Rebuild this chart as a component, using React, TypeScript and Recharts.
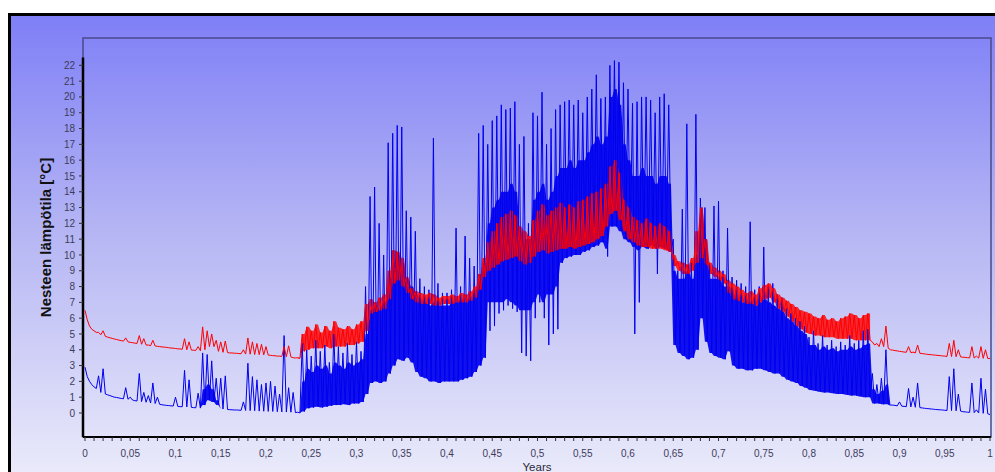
import React from 'react';
import { ComposedChart, Line, Area, XAxis, YAxis, ReferenceArea, ReferenceLine } from 'recharts';

// Time bins (fraction of year), one bin every 0.005 year
const BIN_YEARS = 0.005;

// Blue series: per-bin high (peaks) and low values (°C)
const blueHigh = [
  2.9, 2.0, 1.65, 2.35, 2.8, 1.15, 1.05, 0.98, 0.92, 1.6,
  1.0, 0.78, 2.5, 1.3, 1.1, 1.9, 1.0, 0.52, 0.48, 0.45,
  1.0, 0.4, 2.7, 2.1, 0.34, 1.25, 3.8, 3.7, 3.3, 2.2,
  2.2, 2.35, 0.21, 0.19, 0.18, 0.7, 3.15, 2.3, 2.1, 1.8,
  1.9, 2.0, 1.7, 1.2, 4.9, 1.6, 1.3, 0.05, 4.4, 4.0,
  3.6, 4.6, 3.9, 4.3, 3.2, 5.0, 4.2, 3.8, 4.4, 3.7,
  4.5, 3.9, 8.0, 13.7, 14.3, 12.0, 10.0, 17.1, 17.7, 18.2,
  18.1, 12.8, 12.4, 11.5, 8.5, 8.0, 7.8, 17.4, 8.2, 7.6,
  7.6, 7.8, 11.7, 8.0, 11.2, 9.8, 9.3, 17.7, 18.2, 17.0,
  18.5, 18.8, 19.5, 19.2, 19.3, 19.7, 17.0, 17.5, 12.0, 19.0,
  18.8, 20.3, 17.0, 18.0, 19.2, 19.5, 19.7, 19.8, 19.5, 19.8,
  19.0, 20.0, 20.5, 21.4, 19.9, 20.0, 22.0, 22.3, 22.2, 20.9,
  20.5, 19.6, 19.7, 20.0, 20.0, 19.8, 19.0, 20.0, 20.2, 19.5,
  11.0, 9.0, 12.9, 18.3, 9.5, 18.9, 13.6, 13.0, 9.5, 13.1,
  13.4, 9.0, 11.7, 8.6, 8.4, 8.2, 8.0, 12.1, 7.8, 8.0,
  10.5, 8.0, 8.2, 7.5, 7.3, 6.6, 6.3, 6.0, 5.8, 5.5,
  4.8, 5.2, 4.4, 4.9, 4.3, 4.6, 4.2, 4.5, 4.3, 4.9,
  4.4, 4.6, 5.2, 5.3, 2.5, 1.8, 2.2, 4.0, 0.5, 0.48,
  0.7, 0.42, 1.55, 1.0, 1.9, 0.32, 0.28, 0.25, 0.22, 0.2,
  0.17, 2.3, 2.8, 1.2, 0.08, 0.05, 1.9, 0.2, 2.2, 1.5,
  -0.1,
];

const blueLow = [
  2.3, 1.8, 1.55, 1.3, 1.2, 1.1, 1.0, 0.95, 0.9, 0.87,
  0.82, 0.76, 0.72, 0.68, 0.63, 0.6, 0.55, 0.5, 0.47, 0.44,
  0.42, 0.4, 0.38, 0.36, 0.33, 0.31, 0.5, 0.8, 0.7, 0.5,
  0.25, 0.22, 0.2, 0.19, 0.17, 0.16, 0.15, 0.14, 0.12, 0.11,
  0.1, 0.1, 0.08, 0.07, 0.06, 0.05, 0.02, 0.0, 0.1, 0.3,
  0.35, 0.4, 0.35, 0.4, 0.45, 0.5, 0.5, 0.55, 0.5, 0.6,
  0.6, 0.7, 1.2, 1.9, 2.0, 1.9, 2.0, 2.5, 3.0, 3.4,
  3.3, 3.5, 3.2, 2.6, 2.3, 2.2, 2.0, 2.0, 1.9, 2.0,
  2.0, 2.0, 2.0, 2.1, 2.2, 2.3, 2.6, 3.0, 3.5, 5.2,
  5.5, 6.3, 6.5, 6.8, 6.6, 6.4, 3.8, 3.6, 3.3, 6.0,
  7.0, 6.0, 4.3, 5.0, 5.3, 9.5, 9.8, 9.9, 10.0, 10.0,
  10.2, 10.3, 10.5, 10.6, 10.8, 9.9, 11.8, 11.8, 11.5, 11.0,
  10.8, 5.0, 7.0, 10.5, 10.4, 10.6, 8.8, 10.5, 10.4, 10.2,
  4.3, 3.8, 3.6, 3.4, 3.5, 4.0, 6.0, 4.5, 3.8, 3.6,
  3.5, 3.4, 3.9, 3.0, 2.8, 2.8, 2.7, 2.7, 2.8, 2.8,
  2.7, 2.6, 2.5, 2.5, 2.3, 2.1, 2.0, 1.9, 1.7, 1.6,
  1.45, 1.4, 1.35, 1.3, 1.3, 1.25, 1.2, 1.2, 1.15, 1.1,
  1.1, 1.05, 1.0, 1.0, 0.6, 0.6, 0.55, 0.55, 0.5, 0.45,
  0.43, 0.4, 0.38, 0.36, 0.34, 0.3, 0.27, 0.24, 0.21, 0.19,
  0.16, 0.15, 0.14, 0.12, 0.07, 0.04, 0.02, 0.0, -0.02, -0.05,
  -0.12,
];

// Blue series: solid dense band (bottom / top) per bin (°C)
const blueBandBottom = [
  2.3, 1.8, 1.55, 1.3, 1.2, 1.1, 1.0, 0.95, 0.9, 0.87,
  0.82, 0.76, 0.72, 0.68, 0.63, 0.6, 0.55, 0.5, 0.47, 0.44,
  0.42, 0.4, 0.38, 0.36, 0.33, 0.31, 0.5, 0.8, 0.7, 0.5,
  0.25, 0.22, 0.2, 0.19, 0.17, 0.16, 0.15, 0.14, 0.12, 0.11,
  0.1, 0.1, 0.08, 0.07, 0.06, 0.05, 0.02, 0.0, 0.1, 0.3,
  0.35, 0.4, 0.35, 0.4, 0.45, 0.5, 0.5, 0.55, 0.5, 0.6,
  0.6, 0.7, 1.2, 1.9, 2.0, 1.9, 2.0, 2.5, 3.0, 3.4,
  3.3, 3.5, 3.2, 2.6, 2.3, 2.2, 2.0, 2.0, 1.9, 2.0,
  2.0, 2.0, 2.0, 2.1, 2.2, 2.3, 2.6, 3.0, 3.5, 7.0,
  7.0, 7.0, 7.0, 7.2, 7.0, 6.8, 6.5, 6.5, 6.5, 7.0,
  7.5, 7.0, 7.5, 7.5, 8.0, 9.5, 9.8, 9.9, 10.0, 10.0,
  10.2, 10.3, 10.5, 10.6, 10.8, 10.4, 11.8, 11.8, 11.5, 11.0,
  10.8, 10.5, 10.3, 10.5, 10.4, 10.6, 10.4, 10.5, 10.4, 10.2,
  4.3, 3.8, 3.6, 3.4, 3.5, 4.0, 6.0, 4.5, 3.8, 3.6,
  3.5, 3.4, 3.9, 3.0, 2.8, 2.8, 2.7, 2.7, 2.8, 2.8,
  2.7, 2.6, 2.5, 2.5, 2.3, 2.1, 2.0, 1.9, 1.7, 1.6,
  1.45, 1.4, 1.35, 1.3, 1.3, 1.25, 1.2, 1.2, 1.15, 1.1,
  1.1, 1.05, 1.0, 1.0, 0.6, 0.6, 0.55, 0.55, 0.5, 0.45,
  0.43, 0.4, 0.38, 0.36, 0.34, 0.3, 0.27, 0.24, 0.21, 0.19,
  0.16, 0.15, 0.14, 0.12, 0.07, 0.04, 0.02, 0.0, -0.02, -0.05,
  -0.12,
];

const blueBandTop = [
  2.3, 1.8, 1.55, 1.3, 1.2, 1.1, 1.0, 0.95, 0.9, 0.87,
  0.82, 0.76, 0.72, 0.68, 0.63, 0.6, 0.55, 0.5, 0.47, 0.44,
  0.42, 0.4, 0.38, 0.36, 0.33, 0.31, 1.5, 1.8, 1.5, 0.8,
  0.25, 0.22, 0.2, 0.19, 0.17, 0.16, 0.15, 0.14, 0.12, 0.11,
  0.1, 0.1, 0.08, 0.07, 0.06, 0.05, 0.02, 0.0, 2.0, 2.8,
  2.6, 3.0, 2.8, 3.0, 2.5, 3.2, 3.0, 2.8, 3.2, 3.0,
  3.2, 3.4, 5.0, 6.5, 6.8, 6.5, 7.0, 8.5, 9.5, 10.0,
  9.5, 8.5, 8.0, 7.5, 7.0, 7.0, 6.8, 7.0, 6.8, 6.8,
  6.8, 7.0, 7.0, 7.2, 7.0, 7.2, 7.5, 8.5, 9.5, 12.0,
  13.0, 13.5, 14.0, 14.0, 14.5, 14.0, 11.5, 11.0, 11.0, 13.5,
  14.0, 14.5, 13.5, 14.0, 15.0, 15.5, 15.5, 16.0, 15.5, 16.0,
  16.0, 16.5, 17.0, 17.5, 17.0, 17.5, 20.0, 20.5, 19.5, 17.0,
  16.0, 15.0, 15.0, 15.5, 15.0, 15.0, 14.5, 15.0, 15.0, 14.5,
  9.0, 8.5, 8.5, 9.0, 8.5, 10.0, 13.0, 11.0, 8.5, 8.5,
  8.5, 8.0, 8.0, 7.5, 7.2, 7.0, 7.0, 7.0, 6.8, 7.0,
  7.2, 7.0, 6.8, 6.6, 6.4, 6.0, 5.8, 5.5, 5.2, 5.0,
  4.3, 4.3, 4.0, 4.2, 4.0, 4.1, 3.9, 4.0, 4.0, 4.2,
  4.0, 4.1, 4.3, 4.4, 1.5, 1.2, 1.4, 1.8, 0.5, 0.45,
  0.43, 0.4, 0.38, 0.36, 0.34, 0.3, 0.27, 0.24, 0.21, 0.19,
  0.16, 0.15, 0.14, 0.12, 0.07, 0.04, 0.02, 0.0, -0.02, -0.05,
  -0.12,
];

// Red series: per-bin high and low values (°C)
const redHigh = [
  6.5, 5.5, 5.2, 5.1, 5.2, 4.8, 4.72, 4.65, 4.58, 4.75,
  4.47, 4.42, 4.9, 4.7, 4.3, 4.6, 4.22, 4.18, 4.15, 4.11,
  4.08, 4.05, 4.7, 4.5, 3.97, 4.2, 5.45, 5.2, 5.0, 4.6,
  4.5, 4.55, 3.8, 3.78, 3.76, 4.0, 4.75, 4.5, 4.4, 4.35,
  4.2, 3.65, 3.62, 3.6, 4.2, 4.25, 3.5, 3.5, 5.0, 5.45,
  5.2, 5.6, 5.1, 5.5, 5.2, 5.8, 5.4, 5.3, 5.5, 5.3,
  5.6, 5.8, 6.9, 7.2, 7.0, 7.3, 7.5, 9.0, 10.3, 10.2,
  9.8, 8.6, 7.9, 7.7, 7.6, 7.5, 7.6, 7.5, 7.3, 7.4,
  7.4, 7.5, 7.4, 7.6, 7.5, 7.7, 8.0, 8.8, 9.8, 10.8,
  11.5, 12.0, 12.4, 12.6, 12.8, 12.5, 11.8, 11.5, 11.2, 12.2,
  12.8, 13.2, 12.5, 12.8, 13.0, 13.3, 13.0, 13.2, 13.0, 13.4,
  13.5, 13.7, 13.9, 14.0, 14.2, 14.5, 15.6, 16.0, 15.2, 13.5,
  13.0, 12.4, 12.2, 12.0, 12.3, 12.0, 11.8, 12.0, 11.8, 11.5,
  10.0, 9.6, 9.5, 9.4, 9.8, 11.5, 13.0, 11.0, 9.5, 9.2,
  9.0, 8.8, 8.4, 8.2, 8.0, 7.8, 7.6, 7.7, 7.5, 7.9,
  8.1, 8.2, 7.9, 7.5, 7.3, 7.1, 6.9, 6.7, 6.5, 6.4,
  6.3, 6.1, 6.0, 6.2, 5.9, 6.0, 5.8, 6.0, 6.1, 6.3,
  6.2, 6.0, 6.2, 6.3, 4.5, 4.4, 4.7, 5.5, 4.0, 3.95,
  3.9, 3.86, 4.2, 3.85, 4.3, 3.76, 3.72, 3.69, 3.66, 3.63,
  3.6, 4.4, 4.6, 4.0, 3.53, 3.5, 4.2, 3.6, 4.2, 4.0,
  3.45,
];

const redLow = [
  5.9, 5.3, 5.1, 4.95, 4.85, 4.76, 4.68, 4.61, 4.55, 4.5,
  4.45, 4.4, 4.35, 4.3, 4.26, 4.24, 4.2, 4.17, 4.13, 4.1,
  4.06, 4.03, 4.0, 3.98, 3.96, 3.94, 4.0, 4.2, 4.2, 3.9,
  3.84, 3.82, 3.8, 3.78, 3.75, 3.73, 3.72, 3.7, 3.69, 3.68,
  3.66, 3.63, 3.6, 3.58, 3.56, 3.55, 3.48, 3.45, 3.9, 4.0,
  4.1, 4.1, 4.1, 4.2, 4.1, 4.2, 4.2, 4.2, 4.3, 4.3,
  4.4, 4.5, 5.2, 6.3, 6.4, 6.5, 6.6, 7.2, 8.2, 8.4,
  8.0, 7.6, 7.2, 7.0, 6.9, 6.9, 6.9, 6.8, 6.8, 6.9,
  6.9, 6.9, 7.0, 7.0, 7.0, 7.1, 7.3, 7.8, 8.6, 9.0,
  9.2, 9.4, 9.6, 9.7, 9.8, 9.9, 9.6, 9.4, 9.5, 9.9,
  10.2, 10.3, 10.1, 10.2, 10.3, 10.4, 10.4, 10.5, 10.4, 10.5,
  10.6, 10.7, 10.8, 11.0, 11.2, 11.8, 12.6, 12.8, 12.2, 11.5,
  11.0, 10.8, 10.6, 10.5, 10.5, 10.4, 10.4, 10.4, 10.3, 10.2,
  9.3, 9.0, 8.8, 8.8, 9.0, 9.5, 9.8, 9.4, 8.8, 8.6,
  8.4, 8.2, 7.6, 7.2, 7.1, 7.0, 6.9, 6.9, 6.8, 7.0,
  7.2, 7.3, 7.0, 6.6, 6.4, 6.1, 5.8, 5.5, 5.3, 5.1,
  5.0, 4.9, 4.9, 4.8, 4.8, 4.8, 4.7, 4.7, 4.7, 4.7,
  4.6, 4.6, 4.6, 4.6, 4.3, 4.2, 4.2, 4.1, 3.98, 3.93,
  3.88, 3.84, 3.82, 3.8, 3.78, 3.74, 3.7, 3.67, 3.64, 3.61,
  3.58, 3.57, 3.56, 3.55, 3.52, 3.49, 3.48, 3.47, 3.46, 3.45,
  3.42,
];

// Stretch of the year where the red series forms a dense noisy band
const redDenseSpan = [0.235, 0.866];

const xMajorTicks = [0, 0.05, 0.1, 0.15, 0.2, 0.25, 0.3, 0.35, 0.4, 0.45, 0.5, 0.55, 0.6, 0.65, 0.7, 0.75, 0.8, 0.85, 0.9, 0.95, 1];
const xTickLabels = ['0', '0,05', '0,1', '0,15', '0,2', '0,25', '0,3', '0,35', '0,4', '0,45', '0,5', '0,55', '0,6', '0,65', '0,7', '0,75', '0,8', '0,85', '0,9', '0,95', '1'];
const yTicks = [0, 1, 2, 3, 4, 5, 6, 7, 8, 9, 10, 11, 12, 13, 14, 15, 16, 17, 18, 19, 20, 21, 22];

const xMinorTicks = Array.from({ length: 101 }, (_, i) => i / 100);
const xDomain: [number, number] = [-0.0022, 1.0011];
const yDomain: [number, number] = [-1.52, 23.73];

type Pt = {
  t: number;
  blue: number;
  red: number;
  blueBand: [number, number];
  redBand: [number, number] | null;
};
const data: Pt[] = [];
blueHigh.forEach((_, i) => {
  const t = i * BIN_YEARS;
  const blueBand: [number, number] = [blueBandBottom[i], blueBandTop[i]];
  const inDense = t >= redDenseSpan[0] && t <= redDenseSpan[1];
  const redBand: [number, number] | null = inDense ? [redLow[i], redHigh[i]] : null;
  data.push({ t, blue: blueHigh[i], red: redHigh[i], blueBand, redBand });
  if (i < blueHigh.length - 1) {
    data.push({ t: t + BIN_YEARS / 2, blue: blueLow[i], red: redLow[i], blueBand, redBand });
  }
});

const fmtX = (v: number) => {
  const k = xMajorTicks.findIndex((m) => Math.abs(m - v) < 1e-6);
  return k >= 0 ? xTickLabels[k] : '';
};

const FONT = '"Liberation Sans", Arial, sans-serif';

const YLabel = (p: any) => {
  const vb = p.viewBox || { x: 0, y: 38, width: 83, height: 399 };
  const cx = vb.x + 45;
  const cy = vb.y + vb.height / 2;
  return (
    <text
      x={cx}
      y={cy}
      transform={`rotate(-90 ${cx} ${cy})`}
      textAnchor="middle"
      dominantBaseline="central"
      fontFamily={FONT}
      fontWeight="bold"
      fontSize={15}
      fill="#111"
    >
      Nesteen lämpötila [°C]
    </text>
  );
};

export default function App() {
  return (
    <div style={{ position: 'absolute', left: 0, top: 0, width: 995, height: 472, overflow: 'hidden', background: '#fff' }}>
      <div
        style={{
          position: 'absolute',
          left: 8,
          top: 13,
          width: 1000,
          height: 470,
          boxSizing: 'border-box',
          borderTop: '3px solid #000',
          borderLeft: '3px solid #000',
          background: 'linear-gradient(to bottom, #7f7ff7 0%, #b4b4f4 45%, #ececfb 100%)',
        }}
      />
      <div style={{ position: 'absolute', left: 0, top: 0 }}>
        <ComposedChart width={995} height={472} data={data} margin={{ top: 38, right: 4, bottom: 0, left: 0 }}>
          <ReferenceArea
            x1={xDomain[0]}
            x2={xDomain[1]}
            y1={yDomain[0]}
            y2={yDomain[1]}
            fill="none"
            stroke="#4a4a8c"
            strokeWidth={1.5}
            ifOverflow="visible"
          />
          <XAxis
            dataKey="t"
            type="number"
            domain={xDomain}
            allowDataOverflow
            ticks={xMinorTicks}
            interval={0}
            tickFormatter={fmtX}
            height={35}
            tickSize={4}
            tickMargin={9}
            axisLine={{ stroke: '#000', strokeWidth: 2 }}
            tickLine={{ stroke: '#333' }}
            tick={{ fill: '#3c3c5a', fontSize: 10, fontFamily: FONT }}
            label={{ value: 'Years', position: 'insideBottom', offset: 1, fill: '#2a2a3a', fontSize: 11.5, fontFamily: FONT }}
          />
          <YAxis
            type="number"
            domain={yDomain}
            allowDataOverflow
            ticks={yTicks}
            interval={0}
            width={83}
            tickSize={4}
            tickMargin={4}
            axisLine={false}
            tickLine={{ stroke: '#333' }}
            tick={{ fill: '#3c3c5a', fontSize: 10, fontFamily: FONT }}
            label={{ content: YLabel }}
          />
          <ReferenceLine
            segment={[{ x: xDomain[0], y: yDomain[0] }, { x: xDomain[0], y: 22.5 }]}
            stroke="#000"
            strokeWidth={2.5}
            ifOverflow="visible"
          />
          <Area
            type="linear"
            dataKey={(d: Pt) => d.blueBand}
            stroke="none"
            fill="#0000ee"
            fillOpacity={0.92}
            isAnimationActive={false}
            activeDot={false}
          />
          <Area
            type="linear"
            dataKey={(d: Pt) => d.redBand}
            stroke="none"
            fill="#ff0000"
            fillOpacity={0.8}
            isAnimationActive={false}
            activeDot={false}
          />
          <Line
            type="linear"
            dataKey="blue"
            stroke="#0000f0"
            strokeWidth={1}
            dot={false}
            activeDot={false}
            isAnimationActive={false}
          />
          <Line
            type="linear"
            dataKey="red"
            stroke="#ff0000"
            strokeWidth={1}
            dot={false}
            activeDot={false}
            isAnimationActive={false}
          />
        </ComposedChart>
      </div>
    </div>
  );
}
